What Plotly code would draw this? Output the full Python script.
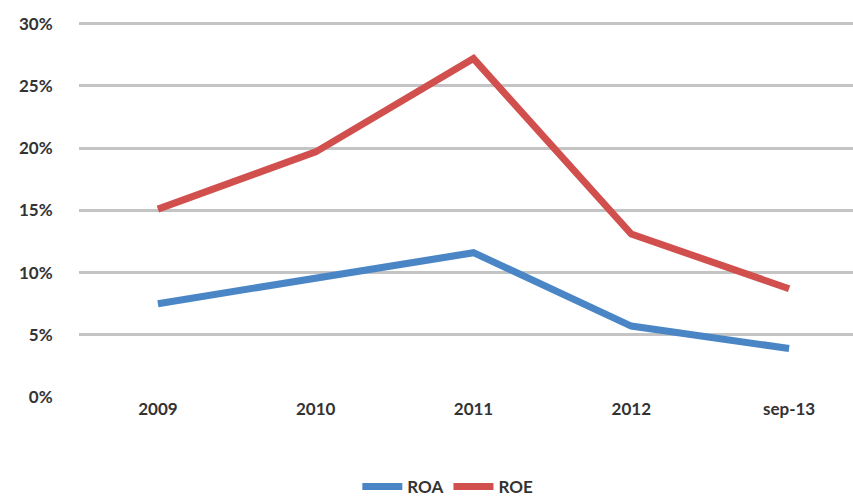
import plotly.graph_objects as go

categories = ["2009", "2010", "2011", "2012", "sep-13"]
roa = [7.5, 9.5, 11.6, 5.7, 3.9]
roe = [15.1, 19.7, 27.2, 13.1, 8.7]
y_ticks = [0, 5, 10, 15, 20, 25, 30]
y_labels = [f"{v}%" for v in y_ticks]

fig = go.Figure()
fig.add_trace(go.Scatter(x=list(range(len(categories))), y=roa, name="ROA", mode="lines",
                         line=dict(color="#4a86c6", width=7)))
fig.add_trace(go.Scatter(x=list(range(len(categories))), y=roe, name="ROE", mode="lines",
                         line=dict(color="#d1504e", width=7)))

font = dict(family="Lato, Open Sans, sans-serif", size=17, color="#333333", weight="bold")
fig.update_layout(
    width=853, height=498,
    margin=dict(l=79, r=0, t=20, b=101),
    paper_bgcolor="white", plot_bgcolor="white",
    font=font,
    showlegend=True,
    legend=dict(orientation="h", xref="container", x=0.525, xanchor="center",
                yref="container", y=0.022, yanchor="middle",
                font=font, itemwidth=40, tracegroupgap=0),
    xaxis=dict(tickmode="array", tickvals=list(range(len(categories))), ticktext=categories,
               range=[-0.5, 4.405], showgrid=False, zeroline=False, showline=False,
               ticks="", ticklen=0, tickfont=font),
    yaxis=dict(range=[0, 30.3], tickmode="array", tickvals=y_ticks, ticktext=y_labels,
               showgrid=True, gridcolor="#c4c4c4", gridwidth=3, zeroline=False, showline=False,
               ticks="outside", ticklen=22, tickcolor="rgba(0,0,0,0)", tickfont=font),
)
fig.write_html("out.html")
